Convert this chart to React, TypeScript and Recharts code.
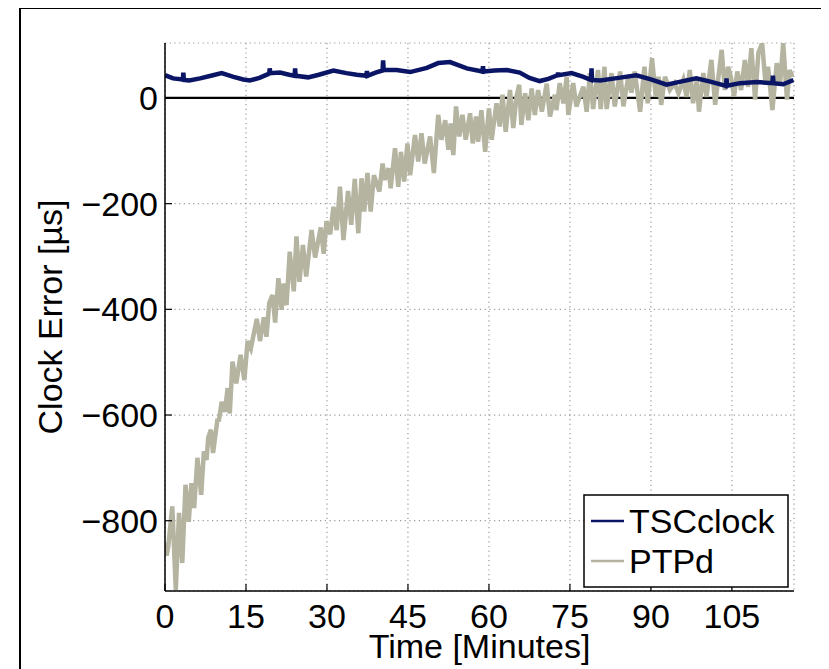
import React from 'react';
import { LineChart, Line, XAxis, YAxis, CartesianGrid, ReferenceLine } from 'recharts';

const FONT = '"Liberation Sans", Arial, Helvetica, sans-serif';

const xTicks = [0, 15, 30, 45, 60, 75, 90, 105];
const yTicks = [-800, -600, -400, -200, 0];
const xDomain: [number, number] = [0, 116.5];
const yDomain: [number, number] = [-933, 104];

const seriesNames = ['TSCclock', 'PTPd'];
const seriesColors = ['#0b1565', '#b4b4a0'];

const ptpdMinutes = [
  0.0, 0.3, 0.6, 1.35, 2.0, 2.6, 3.2, 3.8, 4.4, 4.9, 5.4, 6.0, 6.7, 7.2, 7.7, 8.0, 8.5, 8.9, 9.7, 10.0,
  10.5, 11.1, 11.6, 12.0, 12.5, 13.2, 14.0, 14.7, 15.3, 15.9, 17.0, 17.6, 18.3, 18.8, 19.3, 19.9, 20.4, 21.0, 21.6, 22.0,
  22.5, 23.1, 23.85, 24.35, 24.9, 25.55, 26.15, 27.15, 27.8, 28.85, 29.4, 29.9, 30.6, 31.2, 31.8, 32.4, 33.05, 33.9, 34.5, 35.15,
  35.8, 36.4, 36.9, 37.5, 38.1, 38.7, 39.7, 40.3, 40.7, 41.4, 41.8, 42.6, 43.2, 43.7, 44.3, 44.9, 45.4, 46.3, 46.9, 47.5,
  48.1, 49.1, 49.8, 50.6, 51.2, 51.9, 52.5, 52.9, 53.4, 53.9, 54.5, 55.1, 55.7, 56.5, 57.0, 57.6, 58.0, 58.6, 59.3, 60.0,
  60.5, 61.4, 62.0, 62.5, 63.1, 63.9, 64.5, 65.1, 65.6, 66.0, 66.7, 67.3, 67.9, 68.5, 69.1, 69.8, 70.7, 71.3, 72.2, 72.5,
  73.1, 73.8, 74.4, 74.7, 75.6, 76.2, 76.9, 77.5, 78.1, 78.7, 79.3, 80.2, 80.7, 81.4, 81.8, 82.7, 83.3, 84.3, 84.9, 85.8,
  86.4, 87.0, 88.0, 88.8, 89.4, 90.2, 90.9, 91.4, 91.9, 92.6, 93.5, 94.4, 95.1, 96.0, 96.6, 97.2, 97.8, 98.5, 98.9, 99.7,
  100.3, 101.2, 101.9, 103.1, 103.7, 104.3, 104.8, 105.4, 106.0, 106.7, 107.4, 108.0, 108.6, 109.3, 109.9, 110.6, 111.2, 111.7, 112.5, 113.3,
  113.9, 114.5, 115.2, 115.7, 116.2,
];
const ptpdValues = [
  -842, -866, -849, -773, -931, -785, -880, -732, -802, -729, -776, -681, -751, -669, -685, -643, -628, -672, -610, -609,
  -575, -594, -549, -597, -499, -540, -486, -534, -460, -474, -418, -460, -415, -452, -388, -373, -425, -341, -401, -351,
  -392, -291, -366, -262, -348, -278, -338, -250, -302, -245, -295, -233, -258, -206, -250, -168, -269, -176, -240, -153,
  -256, -152, -215, -142, -215, -146, -177, -124, -155, -133, -171, -95, -168, -102, -158, -86, -146, -70, -120, -67,
  -124, -73, -142, -32, -79, -42, -98, -48, -108, -16, -73, -32, -79, -29, -86, -35, -83, -23, -102, -20,
  -79, -10, -54, 6, -64, 15, -57, 2, 25, -51, 9, -42, 18, -32, 15, -26, 27, -35, 6, -23,
  28, -10, 40, -32, 28, -16, 5, 21, -26, 47, -21, 53, -21, 59, -21, 47, -16, 50, -16, 40,
  10, 50, -26, 59, -10, 75, 2, 40, -13, 40, 15, 28, 9, 34, 2, 53, -10, 34, -26, 47,
  2, 72, -13, 91, 15, 59, 40, 3, 50, 15, 72, 21, 94, -3, 85, 104, 30, 59, -23, 66,
  25, 104, -3, 53, 40,
];

const tscMinutes = [
  0, 0.8, 1.5, 3.3, 3.4, 3.5, 4.5, 6.5, 8.5, 10.5, 12.7, 14.5, 15.7, 17.5, 19.3, 19.4, 19.5, 21.3, 23.0, 24.0,
  24.1, 24.2, 26.5, 28.5, 31.2, 33.6, 35.5, 37.3, 37.4, 37.5, 39.0, 40.3, 40.4, 40.5, 42.9, 45.4, 48.5, 50.6, 52.8, 55.9,
  58.8, 58.9, 59.0, 61.0, 63.3, 65.7, 67.5, 69.4, 71.0, 72.7, 72.8, 72.9, 75.3, 77.5, 78.9, 79.0, 79.1, 80.6, 84.0, 87.3,
  90.0, 92.9, 95.5, 98.4, 101.0, 103.9, 104.0, 104.1, 106.5, 109.6, 112.5, 112.6, 112.7, 114.5, 116.4,
];
const tscValues = [
  43, 40, 37, 35, 48, 34, 33, 37, 42, 47, 40, 35, 33, 38, 46, 56, 47, 48, 44, 42,
  56, 42, 39, 44, 52, 47, 44, 42, 51, 42, 48, 52, 71, 53, 53, 49, 57, 66, 68, 56,
  50, 60, 50, 52, 53, 48, 38, 32, 36, 43, 48, 43, 47, 40, 34, 56, 34, 33, 38, 43,
  35, 25, 31, 37, 31, 23, 37, 23, 28, 30, 28, 42, 28, 26, 34,
];

const ptpdData = ptpdMinutes.map((t, i) => ({ t, v: ptpdValues[i] }));
const tscData = tscMinutes.map((t, i) => ({ t, v: tscValues[i] }));

const fmt = (v: number) => (v < 0 ? '\u2212' + Math.abs(v) : String(v));

const LeftTick = (props: any) => {
  const { x, y, payload } = props;
  return (
    <g>
      <line x1={x} x2={x + 7} y1={y} y2={y} stroke="#000" strokeWidth={1.2} />
      <text x={x - 7} y={y + 12} textAnchor="end" fontSize={34} fontFamily={FONT} fill="#000">
        {fmt(payload.value)}
      </text>
    </g>
  );
};
const RightTick = (props: any) => {
  const { x, y } = props;
  return <line x1={x} x2={x - 7} y1={y} y2={y} stroke="#000" strokeWidth={1.2} />;
};
const BottomTick = (props: any) => {
  const { x, y, payload } = props;
  return (
    <g>
      <line x1={x} x2={x} y1={y} y2={y - 7} stroke="#000" strokeWidth={1.2} />
      <text x={x} y={y + 37} textAnchor="middle" fontSize={34} fontFamily={FONT} fill="#000">
        {fmt(payload.value)}
      </text>
    </g>
  );
};
const TopTick = (props: any) => {
  const { x, y } = props;
  return <line x1={x} x2={x} y1={y} y2={y + 7} stroke="#000" strokeWidth={1.2} />;
};

const YLabel = (props: any) => {
  const vb = props.viewBox;
  const cx = vb.x + 62;
  const cy = vb.y + vb.height / 2;
  return (
    <text x={cx} y={cy} transform={`rotate(-90 ${cx} ${cy})`} textAnchor="middle" fontSize={34} fontFamily={FONT} fill="#000">
      Clock Error [µs]
    </text>
  );
};
const XLabel = (props: any) => {
  const vb = props.viewBox;
  return (
    <text x={vb.x + vb.width / 2} y={vb.y + 67} textAnchor="middle" fontSize={34} fontFamily={FONT} fill="#000">
      Time [Minutes]
    </text>
  );
};

const LegendBox = () => (
  <svg width={206} height={94} style={{ display: 'block' }}>
    <rect x={1} y={1} width={204} height={92} fill="#fff" stroke="#000" strokeWidth={1.5} />
    {seriesNames.map((name, i) => (
      <g key={name}>
        <line x1={8} x2={41} y1={27 + i * 40} y2={27 + i * 40} stroke={seriesColors[i]} strokeWidth={2.5} />
        <text x={46} y={39 + i * 40} fontSize={34} fontFamily={FONT} fill="#000">
          {name}
        </text>
      </g>
    ))}
  </svg>
);

export default function App() {
  return (
    <div style={{ position: 'relative', width: 829, height: 669, margin: '-8px 0 0 -8px', overflow: 'hidden', background: '#fff' }}>
      <div
        style={{
          position: 'absolute',
          left: 19,
          top: 7,
          width: 807,
          height: 720,
          border: '2px solid #000',
          boxSizing: 'border-box',
        }}
      />
      <div style={{ position: 'absolute', left: 0, top: 0 }}>
        <LineChart width={829} height={669} margin={{ top: 43, right: 35, bottom: 0, left: 0 }}>
          <CartesianGrid stroke="#999" strokeDasharray="1.2 3.5" strokeWidth={1.2} />
          <XAxis
            dataKey="t"
            type="number"
            domain={xDomain}
            ticks={xTicks}
            allowDataOverflow
            height={78}
            tickSize={0}
            tickMargin={0}
            tickLine={false}
            tick={<BottomTick />}
            axisLine={{ stroke: '#000', strokeWidth: 1.5 }}
            label={<XLabel />}
          />
          <XAxis
            xAxisId="top"
            orientation="top"
            dataKey="t"
            type="number"
            domain={xDomain}
            ticks={xTicks}
            allowDataOverflow
            height={0}
            tickSize={0}
            tickMargin={0}
            tickLine={false}
            tick={<TopTick />}
            axisLine={{ stroke: '#000', strokeWidth: 1.5 }}
          />
          <YAxis
            type="number"
            domain={yDomain}
            ticks={yTicks}
            allowDataOverflow
            width={165}
            tickSize={0}
            tickMargin={0}
            tickLine={false}
            tick={<LeftTick />}
            axisLine={{ stroke: '#000', strokeWidth: 1.5 }}
            label={<YLabel />}
          />
          <YAxis
            yAxisId="right"
            orientation="right"
            type="number"
            domain={yDomain}
            ticks={yTicks}
            allowDataOverflow
            width={0}
            tickSize={0}
            tickMargin={0}
            tickLine={false}
            tick={<RightTick />}
            axisLine={{ stroke: '#000', strokeWidth: 1.5 }}
          />
          <ReferenceLine y={0} stroke="#000" strokeWidth={2.2} />
          <Line
            data={ptpdData}
            dataKey="v"
            name="PTPd"
            type="linear"
            stroke={seriesColors[1]}
            strokeWidth={4.5}
            dot={false}
            isAnimationActive={false}
          />
          <Line
            data={tscData}
            dataKey="v"
            name="TSCclock"
            type="linear"
            stroke={seriesColors[0]}
            strokeWidth={4.5}
            dot={false}
            isAnimationActive={false}
          />
        </LineChart>
      </div>
      <div style={{ position: 'absolute', left: 583, top: 494 }}>
        <LegendBox />
      </div>
    </div>
  );
}
